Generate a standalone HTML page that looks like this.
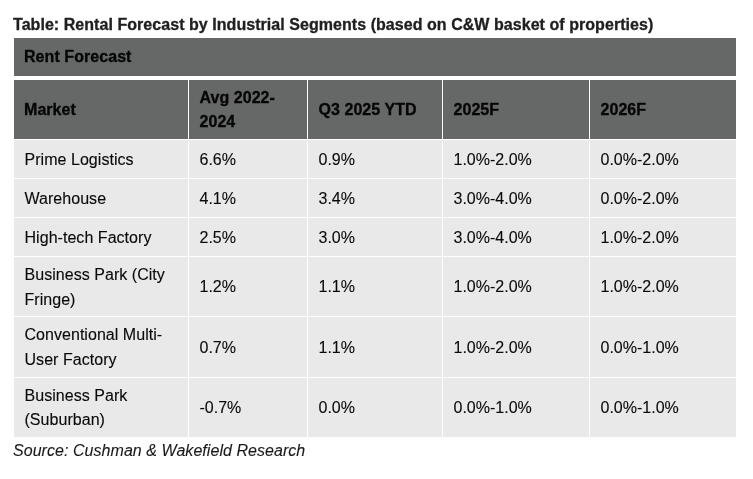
<!DOCTYPE html>
<html lang="en">
<head>
<meta charset="utf-8">
<title>Rental Forecast by Industrial Segments</title>
<style>
html,body{margin:0;padding:0;background:#fff;}
body{width:753px;height:479px;overflow:hidden;position:relative;font-family:"Liberation Sans",sans-serif;color:#111;}
.title{position:absolute;left:13px;top:15px;font-size:16px;font-weight:bold;line-height:20px;color:#202020;white-space:nowrap;letter-spacing:0.05px;-webkit-text-stroke:0.3px #202020;}
.banner{position:absolute;left:14px;top:38px;width:722px;height:38px;background:#656866;}
.banner span{position:absolute;left:10px;top:0;line-height:38px;font-size:16px;font-weight:bold;color:#050505;letter-spacing:0.06px;-webkit-text-stroke:0.3px #050505;}
table{position:absolute;left:14px;top:80px;width:722px;border-collapse:collapse;table-layout:fixed;}
td,th{padding:0 0 0 10px;text-align:left;vertical-align:middle;font-size:16px;line-height:24px;border-right:1px solid #fff;border-bottom:1px solid #fff;}
td:last-child,th:last-child{border-right:0;}
th{background:#656866;font-weight:bold;color:#050505;height:58px;-webkit-text-stroke:0.3px #050505;padding-top:1px;letter-spacing:0.05px;}
td{background:#e9e9e9;font-weight:normal;color:#0a0a0a;-webkit-text-stroke:0.12px #0a0a0a;padding-top:2px;}
td+td,th+th{padding-left:11px;}
td:first-child{letter-spacing:0.04px;padding-left:10.5px;}
tr.s td{height:36px;}
tr.d td{height:57px;}
tr.d td:first-child{line-height:25px;padding-top:1px;}
tr.d td+td{padding-top:0;height:59px;}
tr.d2 td+td{padding-top:2px;height:58px;}
tr.d2 td:first-child{padding-top:0;height:59px;}
tr.d3 td:first-child{line-height:24px;}
.source{position:absolute;left:13px;top:441px;font-size:16px;font-style:italic;line-height:20px;color:#1a1a1a;white-space:nowrap;letter-spacing:0.05px;-webkit-text-stroke:0.1px #1a1a1a;}
</style>
</head>
<body>
<div class="title">Table: Rental Forecast by Industrial Segments (based on C&amp;W basket of properties)</div>
<div class="banner"><span>Rent Forecast</span></div>
<table>
<colgroup><col style="width:174px"><col style="width:119px"><col style="width:135px"><col style="width:147px"><col style="width:147px"></colgroup>
<tr><th>Market</th><th>Avg 2022-<br>2024</th><th>Q3 2025 YTD</th><th>2025F</th><th>2026F</th></tr>
<tr class="s"><td>Prime Logistics</td><td>6.6%</td><td>0.9%</td><td>1.0%-2.0%</td><td>0.0%-2.0%</td></tr>
<tr class="s"><td>Warehouse</td><td>4.1%</td><td>3.4%</td><td>3.0%-4.0%</td><td>0.0%-2.0%</td></tr>
<tr class="s"><td>High-tech Factory</td><td>2.5%</td><td>3.0%</td><td>3.0%-4.0%</td><td>1.0%-2.0%</td></tr>
<tr class="d"><td>Business Park (City<br>Fringe)</td><td>1.2%</td><td>1.1%</td><td>1.0%-2.0%</td><td>1.0%-2.0%</td></tr>
<tr class="d d2"><td>Conventional Multi-<br>User Factory</td><td>0.7%</td><td>1.1%</td><td>1.0%-2.0%</td><td>0.0%-1.0%</td></tr>
<tr class="d d3"><td>Business Park<br>(Suburban)</td><td>-0.7%</td><td>0.0%</td><td>0.0%-1.0%</td><td>0.0%-1.0%</td></tr>
</table>
<div class="source">Source: Cushman &amp; Wakefield Research</div>
</body>
</html>
